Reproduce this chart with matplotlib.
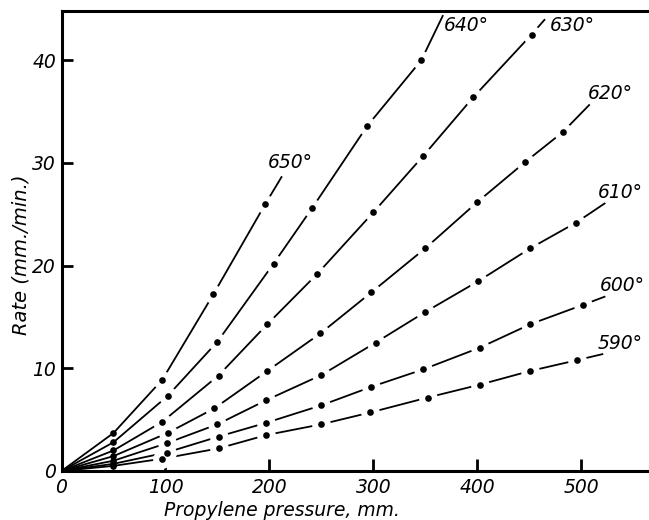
import matplotlib
matplotlib.use("Agg")
import matplotlib.pyplot as plt

# Data: propylene pressure (mm) vs rate (mm/min)
temps = ["650°", "640°", "630°", "620°", "610°", "600°", "590°"]

p650 = [0, 50, 97, 146, 196]
r650 = [0, 3.7, 8.9, 17.2, 26.0]
p640 = [0, 50, 102, 150, 204, 241, 294, 346]
r640 = [0, 2.8, 7.3, 12.6, 20.2, 25.6, 33.6, 40.0]
p630 = [0, 50, 97, 151, 198, 246, 300, 348, 396, 452]
r630 = [0, 2.0, 4.8, 9.3, 14.3, 19.2, 25.2, 30.7, 36.4, 42.5]
p620 = [0, 50, 102, 147, 198, 249, 298, 350, 400, 446, 482]
r620 = [0, 1.45, 3.7, 6.1, 9.75, 13.4, 17.4, 21.7, 26.2, 30.1, 33.0]
p610 = [0, 50, 101, 150, 197, 250, 302, 350, 401, 451, 495]
r610 = [0, 1.0, 2.7, 4.55, 6.9, 9.35, 12.5, 15.5, 18.5, 21.7, 24.2]
p600 = [0, 50, 101, 151, 197, 250, 298, 348, 402, 451, 502]
r600 = [0, 0.7, 1.8, 3.35, 4.7, 6.4, 8.2, 9.9, 12.0, 14.3, 16.2]
p590 = [0, 50, 97, 151, 197, 250, 297, 352, 402, 451, 496]
r590 = [0, 0.5, 1.2, 2.2, 3.5, 4.55, 5.7, 7.15, 8.4, 9.75, 10.8]

# where each drawn curve ends (towards its label)
end_p = [212, 367, 465, 508, 523, 523, 521]
end_r = [28.7, 44.4, 44.0, 35.7, 26.1, 17.0, 11.4]

# label anchor positions (left edge, vertical centre)
lab_p = [198, 368, 470, 506, 516, 518, 516]
lab_r = [30.0, 43.4, 43.4, 36.8, 27.1, 18.1, 12.4]

series = [(p650, r650), (p640, r640), (p630, r630), (p620, r620),
          (p610, r610), (p600, r600), (p590, r590)]

fig = plt.figure(figsize=(6.49, 5.2), dpi=100)
ax = fig.add_axes([61.5 / 649, 49 / 520, (649 - 61.5) / 649, 460 / 520])

for (px, ry), ep, er, t, lp, lr in zip(series, end_p, end_r, temps, lab_p, lab_r):
    xs = list(px) + [ep]
    ys = list(ry) + [er]
    ax.plot(xs, ys, color="black", lw=1.3, solid_capstyle="butt", zorder=2)
    ax.plot(px[2:], ry[2:], ls="none", marker="o", ms=13.5, mfc="white", mec="none", zorder=3)
    ax.plot(px[1:], ry[1:], ls="none", marker="o", ms=4.8, mfc="black", mec="none", zorder=4)
    ax.text(lp, lr, t, fontsize=13.5, style="italic", ha="left", va="center", zorder=5)

ax.set_xlim(0, 565)
ax.set_ylim(0, 44.8)
ax.set_xticks([0, 100, 200, 300, 400, 500])
ax.set_yticks([0, 10, 20, 30, 40])
ax.tick_params(axis="x", direction="in", length=9, width=2, labelsize=13.5, pad=5)
ax.tick_params(axis="y", direction="in", length=8, width=2, labelsize=13.5, pad=4)
for lab in ax.get_xticklabels() + ax.get_yticklabels():
    lab.set_style("italic")

for s in ["left", "bottom", "top"]:
    ax.spines[s].set_linewidth(2.2)
ax.spines["right"].set_visible(False)

ax.set_xlabel("Propylene pressure, mm.", fontsize=13.5, style="italic")
ax.xaxis.set_label_coords(0.375, -0.066)
ax.set_ylabel("Rate (mm./min.)", fontsize=14, style="italic")
ax.yaxis.set_label_coords(-0.052, 0.47)

fig.savefig("out.png", dpi=100)
